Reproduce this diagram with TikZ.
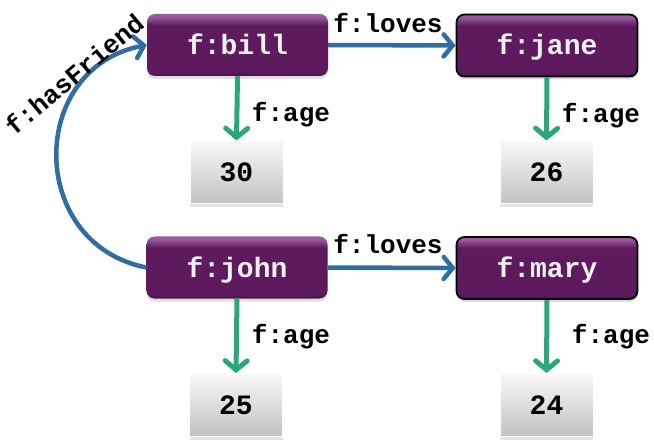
\documentclass[tikz,border=0pt]{standalone}
\usepackage{fontspec}
\setmonofont{Liberation Mono}
\usetikzlibrary{arrows.meta,shadows}

\definecolor{resTop}{HTML}{9A5A9C}
\definecolor{resMid}{HTML}{5D1B5E}
\definecolor{resBot}{HTML}{4C134D}
\definecolor{litTop}{HTML}{F8F8F8}
\definecolor{litBot}{HTML}{C2C2C2}
\definecolor{relBlue}{HTML}{2F6DA3}
\definecolor{ageGreen}{HTML}{2BA878}

% mostly flat purple with a thin highlight along the top edge
\pgfdeclareverticalshading{resshade}{100bp}{%
  color(0bp)=(resBot); color(25bp)=(resBot); color(29bp)=(resMid);
  color(66bp)=(resMid); color(73bp)=(resTop); color(75bp)=(resTop);
  color(100bp)=(resTop)}

\tikzset{
  resource/.style={rounded corners=8pt, minimum width=181pt, minimum height=62pt,
    shading=resshade, text=white!94!black, inner sep=0pt,
    font=\fontsize{28}{32}\selectfont\ttfamily\bfseries,
    text height=19pt, text depth=0pt,
    drop shadow={shadow xshift=0pt, shadow yshift=-3pt, opacity=0.25}},
  outlined/.style={draw=black, line width=1.8pt},
  literal/.style={minimum width=93pt, minimum height=63pt, inner sep=0pt,
    top color=litTop, bottom color=litBot, draw=white, line width=1pt,
    font=\fontsize{28}{32}\selectfont\ttfamily\bfseries,
    text height=19pt, text depth=0pt,
    drop shadow={shadow xshift=0pt, shadow yshift=-3pt, opacity=0.2}},
  lbl/.style={font=\fontsize{26}{30}\selectfont\ttfamily\bfseries, inner sep=0pt, anchor=base},
  relation/.style={draw=relBlue, line width=4.5pt,
    -{Straight Barb[length=9pt, width=22pt, line cap=round]}},
  agearrow/.style={draw=ageGreen, line width=5pt,
    -{Straight Barb[length=9pt, width=22pt, line cap=round]}},
}

\begin{document}
\begin{tikzpicture}[x=1pt, y=-1pt]
  \useasboundingbox (0,0) rectangle (654,441);

  % resources
  \node[resource] (bill) at (237.5,45) {f:bill};
  \node[resource, outlined] (jane) at (547,45.5) {f:jane};
  \node[resource] (john) at (237,267.5) {f:john};
  \node[resource, outlined] (mary) at (547,268) {f:mary};

  % literal values
  \node[literal] (v30) at (236.5,172.5) {30};
  \node[literal] (v26) at (546.5,172.5) {26};
  \node[literal] (v25) at (236,405) {25};
  \node[literal] (v24) at (546.5,405) {24};

  % friendship arc
  \draw[relation] (john.west) .. controls (27,244) and (27,68) .. (bill.west);
  \node[lbl, rotate=40, anchor=center] (hf) at (74,74) {f:hasFriend};

  % loves relations
  \draw[relation] (bill.east) -- (jane.west);
  \node[lbl] (lov1) at (388,33) {f:loves};
  \draw[relation] (john.east) -- (mary.west);
  \node[lbl] (lov2) at (388,254) {f:loves};

  % ages
  \draw[agearrow] (bill.south) -- (v30.north);
  \node[lbl] (age1) at (291,122) {f:age};
  \draw[agearrow] (jane.south) -- (v26.north);
  \node[lbl] (age2) at (601,123) {f:age};
  \draw[agearrow] (john.south) -- (v25.north);
  \node[lbl] (age3) at (291,343) {f:age};
  \draw[agearrow] (mary.south) -- (v24.north);
  \node[lbl] (age4) at (611,343) {f:age};
\end{tikzpicture}
\end{document}
